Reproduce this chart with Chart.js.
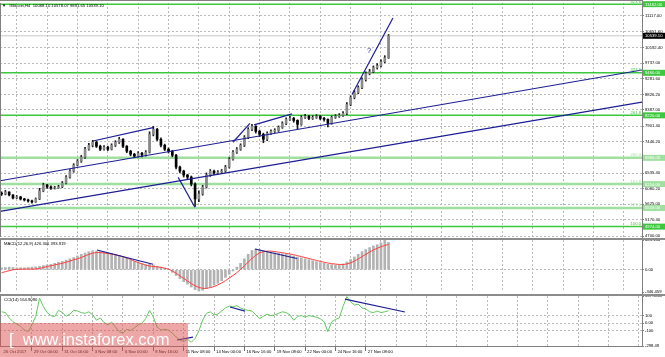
<!DOCTYPE html>
<html><head><meta charset="utf-8">
<script src="https://cdn.jsdelivr.net/npm/chart.js@4.4.1/dist/chart.umd.min.js"></script>
<style>
html,body{margin:0;padding:0;background:#fff;}
#wrap{position:relative;width:665px;height:357px;overflow:hidden;background:#fff;}
canvas{position:absolute;left:0;}
#wm{position:absolute;left:0;top:323px;width:188px;height:34px;background:rgba(222,80,80,0.5);color:#fff;
font:16.5px "Liberation Sans",Arial,sans-serif;line-height:32px;white-space:nowrap;padding-left:9px;box-sizing:border-box;z-index:5;}
</style></head><body>
<div id="wrap">
<canvas id="cMain" width="665" height="238" style="top:0"></canvas>
<canvas id="cMacd" width="665" height="56" style="top:238px"></canvas>
<canvas id="cCci" width="665" height="63" style="top:294px"></canvas>
<div id="wm">[&nbsp;&nbsp;www.instaforex.com</div>
</div>
<script>
// ---------- data (8-hour candles, x = H4 bar index) ----------
const titleText = "#Bitcoin,H4  10068.10 10578.07 9891.65 10539.10";
const timeLabels = ["26 Oct 2017","29 Oct 00:00","31 Oct 16:00","3 Nov 08:00","6 Nov 00:00","8 Nov 16:00","11 Nov 08:00","14 Nov 00:00","16 Nov 16:00","19 Nov 08:00","22 Nov 00:00","24 Nov 16:00","27 Nov 08:00"];
const barsPerLabel = 16;
const xMin = -0.84, xMax = 337.6;

const firstOpen = 5950;
const closes = [5926,5984,5897,5810,5839,5781,5752,5723,5694,5781,
 6013,6187,6129,6100,6110,6135,6245,6419,6593,6767,
 6883,6999,7231,7347,7434,7318,7231,7289,7231,7347,
 7434,7521,7318,7173,7086,7028,7115,7057,7144,7666,
 7811,7521,7347,7231,7173,7057,6709,6593,6477,6419,
 6216,5781,5926,6129,6477,6593,6535,6564,6593,6709,
 6941,7144,7231,7347,7579,7811,7898,7753,7666,7521,
 7695,7753,7782,7869,7985,8101,8130,8072,7956,8159,
 8188,8130,8159,8188,8130,8101,7985,8159,8188,8217,
 8275,8536,8739,8884,9029,9261,9435,9493,9609,9667,
 9783,9899,10539.1];
const highs = [5990,6030,5990,5910,5880,5860,5800,5780,5750,5810,
 6090,6240,6210,6160,6150,6180,6290,6460,6640,6810,
 6930,7050,7290,7400,7490,7470,7350,7340,7320,7390,
 7480,7580,7540,7340,7200,7110,7160,7140,7190,7740,
 7900,7840,7560,7380,7270,7200,7080,6740,6620,6500,
 6450,6250,6020,6180,6540,6640,6620,6610,6640,6760,
 6990,7190,7280,7390,7630,7860,7960,7920,7790,7700,
 7740,7800,7830,7910,8030,8150,8190,8160,8090,8210,
 8250,8220,8210,8240,8220,8160,8120,8200,8240,8270,
 8330,8590,8790,8940,9080,9310,9490,9560,9660,9730,
 9840,9960,10578];
const lows = [5880,5900,5870,5780,5790,5750,5720,5690,5660,5680,
 5760,5990,6090,6060,6070,6090,6110,6220,6390,6560,
 6740,6850,6960,7200,7300,7280,7190,7200,7190,7210,
 7310,7400,7280,7130,7040,6990,7000,7010,7030,7120,
 7620,7480,7300,7190,7120,7010,6660,6540,6420,6370,
 6160,5560,5700,5890,6100,6440,6490,6500,6530,6560,
 6680,6910,7110,7200,7310,7540,7770,7700,7600,7420,
 7480,7660,7720,7750,7840,7950,8070,8020,7830,7930,
 8130,8090,8100,8130,8090,8050,7880,7960,8130,8160,
 8190,8240,8500,8700,8850,9000,9220,9400,9460,9570,
 9630,9750,9880];

const macdMain = [30,35,40,35,30,30,30,35,40,45,
 55,65,75,85,100,115,130,150,170,190,
 215,240,260,280,295,290,280,270,262,255,
 240,225,205,180,155,130,110,95,80,85,
 75,55,40,25,5,-40,-90,-140,-185,-225,
 -270,-310,-330,-320,-295,-270,-240,-210,-170,-120,
 -70,-20,40,100,170,240,300,320,310,295,
 285,275,265,255,248,240,230,215,200,185,
 170,155,140,125,110,100,85,80,75,75,
 90,120,160,200,240,280,315,345,370,390,
 420,463,426.306];
const macdSignal = [-45,-30,-15,0,5,8,10,10,10,12,
 20,35,50,62,75,88,100,118,135,155,
 170,190,215,240,258,268,268,262,252,243,
 232,220,203,182,160,135,112,92,72,58,
 50,45,38,25,10,-20,-55,-95,-135,-175,
 -215,-250,-275,-290,-290,-278,-262,-235,-205,-170,
 -130,-90,-45,5,60,120,175,225,262,282,
 290,290,283,274,265,255,245,233,220,205,
 190,175,160,145,130,117,105,95,88,82,
 82,90,108,135,168,205,240,275,308,335,
 358,378,393.919];
const cci = [150,140,70,20,-10,-40,-90,-110,-20,90,
 330,220,140,100,85,170,140,90,120,170,
 160,140,130,150,110,40,70,10,-20,15,
 -50,-110,-130,-80,-95,-60,-20,0,60,170,
 80,-50,-90,-80,-90,-130,-180,-220,-240,-210,
 -250,-200,-100,40,130,150,110,120,160,200,
 225,215,230,200,180,170,160,110,60,90,
 120,100,110,130,150,140,110,40,90,100,
 80,100,90,80,60,20,-110,20,50,70,
 220,350,280,240,250,200,190,150,140,160,
 140,150,164.909];

// price axis
const priceMin = 4671, priceMax = 11496;
const priceTicks = [11117,10651.6,10192.4,9737,9281.6,8826.2,8387,7901.4,7446.2,6535.4,6080.2,5625,5170.4,4700];
const priceTickLabels = ["11117.00","10651.60","10192.40","9737.00","9281.60","8826.20","8387.00","7901.40","7446.20","6535.40","6080.20","5625.00","5170.40","4700.00"];
const levels = [11462,9460,8220,6980,6214,5518,4974];
const levelLabels = ["11462.00","9460.00","8220.00","6980.00","6214.00","5518.00","4974.00"];
const levelRatios = ["423.6","323.6","261.8","200.0","161.8","127.2","100.0"];
const levelStrong = [true,true,true,false,false,false,true];
const bid = 10539.10, bidLabel = "10539.10";

// drawn trend lines [bar, value]
const priceLines = [
 [[-0.84,6312],[337.6,9542]],
 [[-0.84,5418],[337.6,8608]],
 [[48.2,7472],[79.8,7860]],
 [[93.1,6410],[101.9,5540]],
 [[122.0,7434],[130.9,7985]],
 [[133.1,7941],[153.1,8260]],
 [[184.7,8826],[206.3,11059]]
];
const qMark = {bar:193.7, price:10102, text:"?"};

// MACD panel
const macdMin = -346.459, macdMax = 463.104;
const macdTicks = [463.104, 0, -346.459];
const macdTickLabels = ["463.104","0.00","-346.459"];
const macdTitle = "MACD(12,26,9) 426.306 393.919";
const macdLines = [ [[50.3,307],[79.8,85]], [[133.6,323],[155.7,175]] ];

// CCI panel
const cciMin = -298.49, cciMax = 357.3811;
const cciTicks = [357.3811, 100, 0, -100, -298.49];
const cciTickLabels = ["357.3811","100","0.00","-100","-298.49"];
const cciTitle = "CCI(14) 164.9090";
const cciLines = [ [[92.5,-220],[100.9,-181]], [[120.4,213],[128.3,160]], [[181.0,317],[212.6,147]] ];

// ---------- styles ----------
const FONT = {family:"'Liberation Sans', Arial, sans-serif", size:4.2};
const FONTSTR = FONT.size + "px " + FONT.family;
const GRID = '#b9b9b9', AXIS = '#808080', NAVY = '#1c1c94';
const STRONG = '#3cc83c', LIGHT = '#9fe09f';

const candleX = closes.map((_, k) => 2 * k);
const opens = closes.map((c, k) => k === 0 ? firstOpen : closes[k - 1]);

function xScale(showLabels){
  return {
    type:'linear', min:xMin, max:xMax, offset:false,
    afterBuildTicks(s){ const t=[]; for(let b=0;b<=xMax;b+=barsPerLabel) t.push({value:b}); s.ticks=t; },
    afterFit(s){ s.height = showLabels ? 11 : 0; s.paddingLeft=0; s.paddingRight=0; },
    grid:{ color:c => c.index===0 ? 'rgba(0,0,0,0)' : GRID, lineWidth:1, drawTicks:showLabels, tickLength:5,
      tickColor:c => (c.index>0 && c.index<timeLabels.length) ? '#707070' : 'rgba(0,0,0,0)', tickBorderDash:[], tickWidth:1 },
    border:{display:false, dash:[2,2]},
    ticks:{ display:showLabels, autoSkip:false, maxRotation:0, minRotation:0, align:'start', labelOffset:2, padding:-2,
      font:FONT, color:'#000', callback:(v,i) => i<timeLabels.length ? timeLabels[i] : '' }
  };
}
function yScale(min,max,ticks,labels,gridFn){
  return {
    type:'linear', position:'right', min, max, beginAtZero:false,
    afterBuildTicks(s){ s.ticks = ticks.map(v=>({value:v})); },
    afterFit(s){ s.width=23; s.paddingTop=0; s.paddingBottom=0; },
    grid:{ color:gridFn, drawTicks:true, tickLength:2, tickColor:AXIS, tickBorderDash:[] },
    border:{display:false, dash:[2,2]},
    ticks:{ autoSkip:false, padding:1, font:FONT, color:'#000', callback:(v,i)=>labels[i] }
  };
}
function lineDS(pts,color,width,order){
  return {type:'line', data:pts.map(([x,y])=>({x,y})), borderColor:color, borderWidth:width,
    pointRadius:0, fill:false, tension:0, order};
}
function frame(kind, title){
  return {id:'frame_'+kind, afterDraw(chart){
    const {ctx, chartArea:a, width, height} = chart;
    ctx.save();
    ctx.fillStyle = '#8c8c8c';
    if(kind!=='main') ctx.fillRect(0,0,width,2);
    ctx.strokeStyle = AXIS; ctx.lineWidth = 1;
    ctx.beginPath();
    ctx.moveTo(a.right+0.5, kind==='main'?0:2); ctx.lineTo(a.right+0.5, kind==='cci'? a.bottom+1 : height);
    ctx.moveTo(0.5, a.top); ctx.lineTo(0.5, a.bottom);
    if(kind==='main'){ ctx.moveTo(0,0.5); ctx.lineTo(a.right+1,0.5); }
    if(kind==='cci'){ ctx.moveTo(0,a.bottom+0.5); ctx.lineTo(a.right+1,a.bottom+0.5); }
    ctx.stroke();
    if(title){
      ctx.font = FONTSTR; ctx.fillStyle='#000'; ctx.textAlign='left'; ctx.textBaseline='middle';
      ctx.fillText(title, a.left+4, a.top+4);
    }
    ctx.restore();
  }};
}
const baseOpts = (pad) => ({
  responsive:false, animation:false, devicePixelRatio:1, events:[],
  layout:{padding:pad},
  plugins:{legend:{display:false}, tooltip:{enabled:false}}
});

// ---------- main price chart ----------
const mainDS = [];
levels.forEach((lv,i)=>{
  mainDS.push(lineDS([[xMin,lv],[xMax,lv]], levelStrong[i]?STRONG:LIGHT, levelStrong[i]?1.5:2.5, 9));
});
mainDS.push(lineDS([[xMin,bid],[xMax,bid]], '#c8c8c8', 1, 9));
mainDS.push({type:'bar', data:candleX.map((x,k)=>({x, y:[lows[k],highs[k]]})), backgroundColor:'#1a1a1a',
  barThickness:1, grouped:false, order:4});
mainDS.push({type:'bar', data:candleX.map((x,k)=>({x, y:[opens[k],closes[k]]})),
  backgroundColor:closes.map((c,k)=> c>=opens[k] ? '#8a8a8a' : '#000000'),
  borderWidth:0, borderSkipped:false, barThickness:2, grouped:false, order:3});
priceLines.forEach(l=> mainDS.push(lineDS(l, NAVY, 1.2, 1)));

const mainDecor = {id:'mainDecor', afterDatasetsDraw(chart){
  const {ctx, scales:{x,y}, chartArea:a, width} = chart;
  ctx.save();
  ctx.font = FONTSTR;
  levels.forEach((lv,i)=>{
    const py = y.getPixelForValue(lv);
    const col = levelStrong[i]?STRONG:LIGHT;
    ctx.fillStyle = col; ctx.textAlign='right'; ctx.textBaseline='alphabetic';
    ctx.fillText(levelRatios[i], a.right-1, py-1.5);
    ctx.fillRect(a.right+1, py-3, width-a.right-1, 6);
    ctx.fillStyle='#fff'; ctx.textAlign='left'; ctx.textBaseline='middle';
    ctx.fillText(levelLabels[i], a.right+3, py+0.3);
  });
  const by = y.getPixelForValue(bid);
  ctx.fillStyle='#000'; ctx.fillRect(a.right+1, by-3, width-a.right-1, 6);
  ctx.fillStyle='#fff'; ctx.textAlign='left'; ctx.textBaseline='middle';
  ctx.fillText(bidLabel, a.right+3, by+0.3);
  ctx.fillStyle = NAVY; ctx.font = "7.5px " + FONT.family; ctx.textAlign='center';
  ctx.fillText(qMark.text, x.getPixelForValue(qMark.bar), y.getPixelForValue(qMark.price));
  ctx.font = FONTSTR; ctx.fillStyle='#000'; ctx.textAlign='left';
  ctx.fillText("\u25BC", 2, 5.5);
  ctx.fillText(titleText, 9, 5.5);
  ctx.restore();
}};

new Chart(document.getElementById('cMain'), {
  type:'bar',
  data:{datasets:mainDS},
  options:Object.assign(baseOpts({top:3,bottom:1,left:0,right:0}), {
    scales:{ x:xScale(false), y:yScale(priceMin,priceMax,priceTicks,priceTickLabels,()=>GRID) }
  }),
  plugins:[mainDecor, frame('main', null)]
});

// ---------- MACD ----------
const macdDS = [
  {type:'bar', data:candleX.map((x,k)=>({x, y:macdMain[k]})), backgroundColor:'#b2b2b2', barThickness:2, grouped:false, order:3},
  lineDS(candleX.map((x,k)=>[x,macdSignal[k]]), '#ff4040', 1, 2)
];
macdLines.forEach(l=> macdDS.push(lineDS(l, NAVY, 1.2, 1)));
new Chart(document.getElementById('cMacd'), {
  type:'bar',
  data:{datasets:macdDS},
  options:Object.assign(baseOpts({top:2,bottom:2,left:0,right:0}), {
    scales:{ x:xScale(false), y:yScale(macdMin,macdMax,macdTicks,macdTickLabels, c => (c.tick && c.tick.value===0) ? GRID : 'rgba(0,0,0,0)') }
  }),
  plugins:[frame('macd', macdTitle)]
});

// ---------- CCI ----------
const cciDS = [ lineDS(candleX.map((x,k)=>[x,cci[k]]), '#62c862', 1, 2) ];
cciLines.forEach(l=> cciDS.push(lineDS(l, NAVY, 1.2, 1)));
new Chart(document.getElementById('cCci'), {
  type:'line',
  data:{datasets:cciDS},
  options:Object.assign(baseOpts({top:2,bottom:0,left:0,right:0}), {
    scales:{ x:xScale(true), y:yScale(cciMin,cciMax,cciTicks,cciTickLabels, c => (c.tick && Math.abs(c.tick.value)<=100) ? GRID : 'rgba(0,0,0,0)') }
  }),
  plugins:[frame('cci', cciTitle)]
});
</script>
</body></html>
